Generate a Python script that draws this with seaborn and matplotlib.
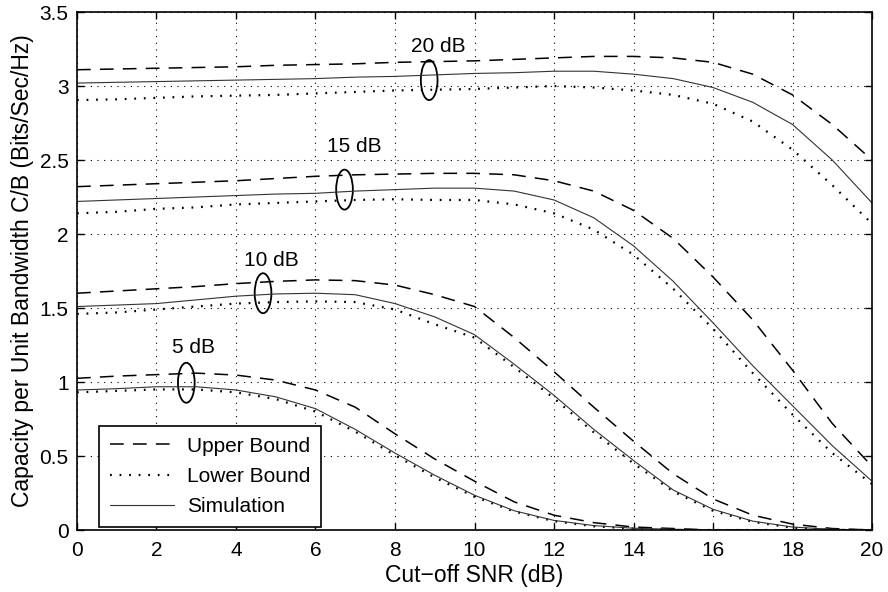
import numpy as np
import pandas as pd
import matplotlib.pyplot as plt
import seaborn as sns
from matplotlib.patches import Ellipse
from matplotlib.lines import Line2D

# data (cut-off SNR in dB)
snr = list(range(0, 21))

upper_20 = [3.11, 3.115, 3.12, 3.125, 3.13, 3.14, 3.145, 3.15, 3.16, 3.165, 3.17,
            3.18, 3.19, 3.20, 3.20, 3.19, 3.16, 3.08, 2.94, 2.74, 2.50]
sim_20 = [3.02, 3.025, 3.03, 3.035, 3.04, 3.045, 3.05, 3.06, 3.065, 3.075, 3.085,
          3.09, 3.10, 3.10, 3.08, 3.05, 2.99, 2.89, 2.74, 2.50, 2.21]
lower_20 = [2.905, 2.91, 2.92, 2.93, 2.935, 2.94, 2.95, 2.96, 2.97, 2.975, 2.98,
            2.99, 3.00, 2.99, 2.97, 2.94, 2.88, 2.76, 2.57, 2.33, 2.07]

upper_15 = [2.32, 2.33, 2.34, 2.35, 2.36, 2.375, 2.39, 2.40, 2.405, 2.41, 2.41,
            2.40, 2.36, 2.29, 2.16, 1.97, 1.71, 1.42, 1.08, 0.72, 0.43]
sim_15 = [2.22, 2.23, 2.24, 2.25, 2.26, 2.27, 2.275, 2.29, 2.30, 2.31, 2.31,
          2.29, 2.23, 2.11, 1.92, 1.68, 1.40, 1.11, 0.84, 0.57, 0.33]
lower_15 = [2.14, 2.15, 2.17, 2.18, 2.20, 2.21, 2.22, 2.23, 2.235, 2.23, 2.23,
            2.20, 2.14, 2.03, 1.86, 1.63, 1.36, 1.06, 0.78, 0.52, 0.31]

upper_10 = [1.60, 1.615, 1.63, 1.645, 1.665, 1.68, 1.69, 1.685, 1.655, 1.59, 1.51,
            1.30, 1.07, 0.83, 0.60, 0.38, 0.21, 0.10, 0.04, 0.01, 0.0]
sim_10 = [1.51, 1.52, 1.53, 1.555, 1.58, 1.595, 1.60, 1.59, 1.53, 1.44, 1.32,
          1.12, 0.91, 0.68, 0.47, 0.27, 0.14, 0.06, 0.02, 0.005, 0.0]
lower_10 = [1.46, 1.47, 1.49, 1.51, 1.53, 1.54, 1.545, 1.54, 1.49, 1.39, 1.30,
            1.10, 0.89, 0.66, 0.45, 0.26, 0.13, 0.055, 0.015, 0.0, 0.0]

upper_5 = [1.025, 1.04, 1.05, 1.06, 1.047, 1.013, 0.946, 0.83, 0.65, 0.48, 0.33,
           0.19, 0.10, 0.05, 0.02, 0.01, 0.0, 0.0, 0.0, 0.0, 0.0]
sim_5 = [0.946, 0.955, 0.968, 0.968, 0.946, 0.90, 0.82, 0.68, 0.52, 0.37, 0.235,
         0.13, 0.065, 0.03, 0.012, 0.005, 0.0, 0.0, 0.0, 0.0, 0.0]
lower_5 = [0.93, 0.94, 0.95, 0.95, 0.93, 0.885, 0.80, 0.665, 0.505, 0.355, 0.225,
           0.125, 0.06, 0.025, 0.01, 0.0, 0.0, 0.0, 0.0, 0.0, 0.0]

# annotation labels: (text, label x, label y, ellipse x, ellipse y)
labels = ["20 dB", "15 dB", "10 dB", "5 dB"]
label_x = [9.1, 6.98, 4.89, 2.92]
label_y = [3.27, 2.59, 1.82, 1.23]
ell_x = [8.86, 6.73, 4.68, 2.75]
ell_y = [3.04, 2.30, 1.60, 0.995]

sns.set_style("ticks")
plt.rcParams['font.family'] = ['Liberation Sans', 'DejaVu Sans']
plt.rcParams['xtick.direction'] = 'in'
plt.rcParams['ytick.direction'] = 'in'
plt.rcParams['text.color'] = 'black'
plt.rcParams['axes.labelcolor'] = 'black'
plt.rcParams['xtick.color'] = 'black'
plt.rcParams['ytick.color'] = 'black'
plt.rcParams['axes.edgecolor'] = 'black'

fig = plt.figure(figsize=(8.88, 5.92), dpi=100)
ax = fig.add_axes([0.0867, 0.1047, 0.8953, 0.875])

groups = [(upper_20, sim_20, lower_20), (upper_15, sim_15, lower_15),
          (upper_10, sim_10, lower_10), (upper_5, sim_5, lower_5)]
for up, sim, low in groups:
    df = pd.DataFrame({"snr": snr, "upper": up, "sim": sim, "lower": low})
    sns.lineplot(data=df, x="snr", y="upper", ax=ax, color="black", lw=1.1,
                 linestyle=(0, (9, 6)))
    sns.lineplot(data=df, x="snr", y="lower", ax=ax, color="black", lw=1.6,
                 linestyle=(0, (0.8, 3.5)))
    sns.lineplot(data=df, x="snr", y="sim", ax=ax, color="#333333", lw=0.8)

for t, lx, ly, ex, ey in zip(labels, label_x, label_y, ell_x, ell_y):
    ax.text(lx, ly, t, ha="center", va="center", fontsize=15)
    ax.add_patch(Ellipse((ex, ey), 0.42, 0.27, fill=False, ec="black", lw=1.3))

ax.set_xlim(0, 20)
ax.set_ylim(0, 3.5)
ax.set_xticks(np.arange(0, 21, 2))
ax.set_yticks(np.arange(0, 3.51, 0.5))
ax.set_yticklabels(["0", "0.5", "1", "1.5", "2", "2.5", "3", "3.5"])
ax.tick_params(labelsize=15, top=True, right=True, length=5, width=1)
ax.tick_params(axis="x", pad=8)
ax.tick_params(axis="y", pad=6)
ax.grid(True, linestyle=(0, (1, 5)), color="black", lw=0.8)
for s in ax.spines.values():
    s.set_linewidth(1.2)
ax.set_xlabel("Cut\u2212off SNR (dB)", fontsize=16.5, labelpad=3)
ax.set_ylabel("Capacity per Unit Bandwidth C/B (Bits/Sec/Hz)", fontsize=16.5, labelpad=4)

handles = [Line2D([], [], color="black", lw=1.1, linestyle=(0, (9, 6))),
           Line2D([], [], color="black", lw=1.6, linestyle=(0, (0.8, 3.5))),
           Line2D([], [], color="#333333", lw=0.8)]
leg = ax.legend(handles, ["Upper Bound", "Lower Bound", "Simulation"],
                loc="lower left", bbox_to_anchor=(0.028, 0.006), fontsize=15,
                frameon=True, fancybox=False, edgecolor="black", framealpha=1,
                handlelength=3.1, borderpad=0.5, labelspacing=0.55,
                handletextpad=0.6, borderaxespad=0.0)
leg.get_frame().set_linewidth(1.2)

plt.savefig("out.png", dpi=100)
plt.close()
